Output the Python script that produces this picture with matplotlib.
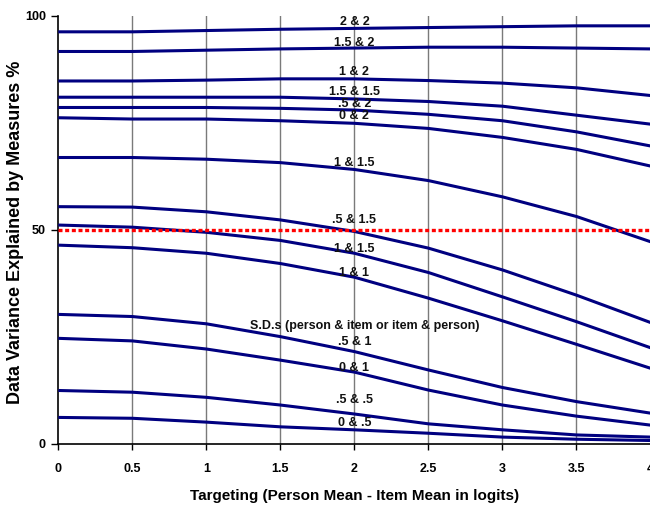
import matplotlib
matplotlib.use("Agg")
import matplotlib.pyplot as plt
from matplotlib import font_manager as fm

names = {f.name for f in fm.fontManager.ttflist}
NARROW = "Liberation Sans Narrow" if "Liberation Sans Narrow" in names else "Liberation Sans"
WIDE = "Liberation Sans"

# ---- data ----
targeting = [0, 0.5, 1, 1.5, 2, 2.5, 3, 3.5, 4]

s_2_2     = [96.3, 96.3, 96.6, 96.9, 97.1, 97.3, 97.5, 97.7, 97.7]
s_15_2    = [91.7, 91.7, 92.0, 92.3, 92.5, 92.7, 92.7, 92.5, 92.3]
s_1_2     = [84.8, 84.8, 85.0, 85.3, 85.3, 84.9, 84.3, 83.2, 81.4]
s_15_15   = [81.0, 81.0, 81.0, 81.0, 80.6, 80.0, 78.9, 76.8, 74.7]
s_05_2    = [78.6, 78.6, 78.6, 78.4, 78.0, 77.0, 75.5, 72.9, 69.6]
s_0_2     = [76.2, 75.9, 75.9, 75.5, 74.9, 73.7, 71.6, 68.8, 64.9]
s_1_15    = [66.9, 66.9, 66.5, 65.7, 64.1, 61.5, 57.7, 53.1, 47.2]
s_05_15   = [55.4, 55.3, 54.2, 52.3, 49.6, 45.7, 40.6, 34.7, 28.3]
s_0_15    = [51.1, 50.6, 49.4, 47.5, 44.5, 40.0, 34.3, 28.5, 22.4]
s_1_1     = [46.4, 45.8, 44.5, 42.1, 38.9, 34.0, 28.7, 23.2, 17.6]
s_05_1    = [30.2, 29.7, 28.0, 25.0, 21.5, 17.2, 13.1, 9.8, 7.1]
s_0_1     = [24.6, 24.0, 22.1, 19.5, 16.7, 12.5, 9.0, 6.4, 4.3]
s_05_05   = [12.4, 12.0, 10.8, 9.0, 6.9, 4.6, 3.2, 2.0, 1.5]
s_0_05    = [6.1, 5.9, 5.0, 3.9, 3.2, 2.4, 1.5, 1.0, 0.7]

series = [s_2_2, s_15_2, s_1_2, s_15_15, s_05_2, s_0_2, s_1_15,
          s_05_15, s_0_15, s_1_1, s_05_1, s_0_1, s_05_05, s_0_05]

labels = ["2 & 2", "1.5 & 2", "1 & 2", "1.5 & 1.5", ".5 & 2", "0 & 2", "1 & 1.5",
          ".5 & 1.5", "1 & 1.5", "1 & 1", "S.D.s (person & item or item & person)",
          ".5 & 1", "0 & 1", ".5 & .5", "0 & .5"]
label_y = [98.7, 93.8, 87.0, 82.3, 79.4, 76.6, 65.5, 52.3, 45.4, 40.0, 27.5,
           23.8, 17.6, 10.2, 4.9]
label_x = [2.0] * 10 + [2.07] + [2.0] * 4

threshold = 50
xticks = [0, 0.5, 1, 1.5, 2, 2.5, 3, 3.5, 4]
xticklabels = ["0", "0.5", "1", "1.5", "2", "2.5", "3", "3.5", "4"]
yticks = [0, 50, 100]

# ---- figure ----
fig = plt.figure(figsize=(6.5, 5.07), dpi=100)
ax = fig.add_axes([58.3 / 650, 63.5 / 507, (650.5 - 58.3) / 650, (443.5 - 16) / 507])
ax.set_xlim(0, 4)
ax.set_ylim(0, 100)

for x in xticks[1:]:
    ax.axvline(x, color="#7a7a7a", lw=1.0, zorder=1)

for s in series:
    ax.plot(targeting, s, color="#000080", lw=2.2, zorder=3, solid_capstyle="butt")

ax.plot([0, 4], [threshold, threshold], color="#ff0000", lw=2.4,
        dashes=(1.2, 0.8), zorder=4)

for t, x, y in zip(labels, label_x, label_y):
    ax.text(x, y, t, ha="center", va="center", fontsize=9, fontweight="bold",
            family=NARROW, color="#111111", zorder=5)

for sp in ["top", "right"]:
    ax.spines[sp].set_visible(False)
ax.spines["left"].set_linewidth(1.2)
ax.spines["bottom"].set_linewidth(1.2)

ax.set_xticks(xticks)
ax.set_xticklabels(xticklabels)
ax.set_yticks(yticks)
ax.tick_params(axis="x", length=4, width=1, pad=10, labelsize=9)
ax.tick_params(axis="y", length=5, width=1, pad=4, labelsize=9)
for lab in ax.get_xticklabels() + ax.get_yticklabels():
    lab.set_fontweight("bold")
    lab.set_family(NARROW)

ax.set_xlabel("Targeting (Person Mean - Item Mean in logits)", fontsize=11,
              fontweight="bold", family=NARROW, labelpad=10)
fig.text(16 / 650, 1 - 232 / 507, "Data Variance Explained by Measures %",
         rotation=90, ha="center", va="center", fontsize=13,
         fontweight="bold", family=WIDE)

fig.savefig("out.png", dpi=100)
